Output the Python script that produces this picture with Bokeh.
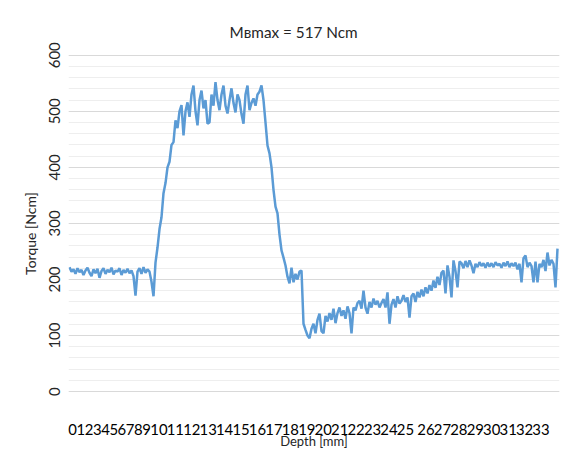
import numpy as np
from bokeh.plotting import figure
from bokeh.models import Range1d, LinearAxis, FixedTicker
from bokeh.embed import file_html
from bokeh.resources import INLINE

title_text = "Mвmax = 517 Ncm"
y_label = "Torque [Ncm]"
x_label = "Depth [mm]"
depth_labels = ["0", "1", "2", "3", "4", "5", "6", "7", "8", "9", "10", "11",
                "12", "13", "14", "15", "16", "17", "18", "19", "20", "21", "22",
                "23", "24", "25", "26", "27", "28", "29", "30", "31", "32", "33"]
gap_before = "26"
y_ticks = [0, 100, 200, 300, 400, 500, 600]
y_minor_ticks = [0, 20, 40, 60, 80, 100, 120, 140, 160, 180, 200, 220, 240, 260,
                 280, 300, 320, 340, 360, 380, 400, 420, 440, 460, 480, 500, 520,
                 540, 560, 580, 600]

torque = [
    222, 214, 218, 210, 220, 213, 217, 208, 216, 221, 212, 206, 218, 211, 219, 203,
    215, 220, 210, 217, 213, 221, 209, 216, 214, 220, 208, 217, 212, 219, 211, 216,
    206, 171, 214, 220, 210, 222, 212, 218, 214, 196, 170, 230, 257, 290, 311, 354,
    372, 400, 410, 440, 445, 484, 470, 500, 511, 457, 500, 516, 490, 530, 546, 500,
    475, 520, 537, 505, 520, 478, 480, 530, 510, 552, 520, 502, 530, 546, 510, 496,
    520, 541, 515, 498, 530, 520, 495, 478, 530, 546, 502, 515, 523, 510, 530, 535,
    546, 520, 480, 439, 425, 400, 360, 330, 318, 280, 252, 239, 225, 205, 193, 221,
    195, 210, 200, 214, 216, 121, 110, 100, 95, 112, 121, 104, 128, 139, 108, 104,
    135, 125, 140, 128, 148, 122, 140, 150, 135, 145, 130, 152, 140, 104, 150, 145,
    158, 162, 148, 180, 150, 139, 160, 150, 166, 155, 162, 150, 158, 165, 150, 177,
    121, 155, 165, 150, 170, 157, 162, 172, 160, 168, 132, 170, 175, 160, 178, 168,
    182, 170, 186, 175, 190, 180, 198, 185, 205, 190, 212, 216, 175, 225, 205, 168,
    234, 215, 186, 232, 229, 220, 233, 222, 234, 225, 211, 228, 222, 231, 224, 229,
    221, 230, 223, 229, 222, 231, 225, 228, 221, 230, 224, 232, 222, 229, 224, 230,
    218, 228, 195, 238, 243, 222, 230, 224, 195, 232, 195, 228, 222, 235, 215, 248,
    225, 235, 228, 186, 255,
]

sample = np.arange(len(torque))

# label centres in half-character units, so the labels run together as in the source
positions = []
cursor = 0
for lab in depth_labels:
    if lab == gap_before:
        cursor += 1
    positions.append(cursor + len(lab))
    cursor += 2 * len(lab)

FONT = "Lato"
TXT = "#262626"

p = figure(width=563, height=451, output_backend="svg", toolbar_location=None,
           x_range=Range1d(-0.5, len(torque)), y_range=Range1d(-48, 612),
           x_axis_type=None, min_border_left=68, min_border_right=4,
           min_border_top=48, min_border_bottom=33, title=title_text)
p.outline_line_color = None
p.background_fill_color = "white"
p.border_fill_color = "white"

p.title.align = "left"
p.title.offset = 161
p.title.standoff = 16
p.title.text_font = FONT
p.title.text_font_size = "15.3px"
p.title.text_font_style = "normal"
p.title.text_color = TXT

p.extra_x_ranges = {"chars": Range1d(0, 119.5)}
xaxis = LinearAxis(x_range_name="chars", ticker=FixedTicker(ticks=positions),
                   major_label_overrides={pos: lab for pos, lab in zip(positions, depth_labels)})
xaxis.axis_label = x_label
xaxis.axis_line_color = None
xaxis.major_tick_line_color = None
xaxis.minor_tick_line_color = None
xaxis.major_tick_out = 0
xaxis.minor_tick_out = 0
xaxis.major_label_standoff = 5
xaxis.major_label_text_font = FONT
xaxis.major_label_text_font_size = "14.9px"
xaxis.major_label_text_color = "black"
xaxis.axis_label_standoff = -5
xaxis.axis_label_text_font = FONT
xaxis.axis_label_text_font_size = "13px"
xaxis.axis_label_text_font_style = "normal"
xaxis.axis_label_text_color = TXT
p.add_layout(xaxis, "below")

yt = FixedTicker(ticks=y_ticks, minor_ticks=y_minor_ticks)
p.yaxis.ticker = yt
p.yaxis.axis_label = y_label
p.yaxis.axis_line_color = None
p.yaxis.major_tick_line_color = None
p.yaxis.minor_tick_line_color = None
p.yaxis.major_tick_out = 0
p.yaxis.minor_tick_out = 0
p.yaxis.major_label_orientation = "vertical"
p.yaxis.major_label_standoff = 8
p.yaxis.major_label_text_font = FONT
p.yaxis.major_label_text_font_size = "15px"
p.yaxis.major_label_text_color = TXT
p.yaxis.axis_label_standoff = 8
p.yaxis.axis_label_text_font = FONT
p.yaxis.axis_label_text_font_size = "14px"
p.yaxis.axis_label_text_font_style = "normal"
p.yaxis.axis_label_text_color = TXT

p.ygrid.ticker = yt
p.ygrid.grid_line_color = "#d9d9d9"
p.ygrid.minor_grid_line_color = "#eeeeee"
p.ygrid.grid_line_width = 1

p.line(sample, torque, line_color="#5B9BD5", line_width=2.5)

open("out.html", "w").write(file_html(p, INLINE))
